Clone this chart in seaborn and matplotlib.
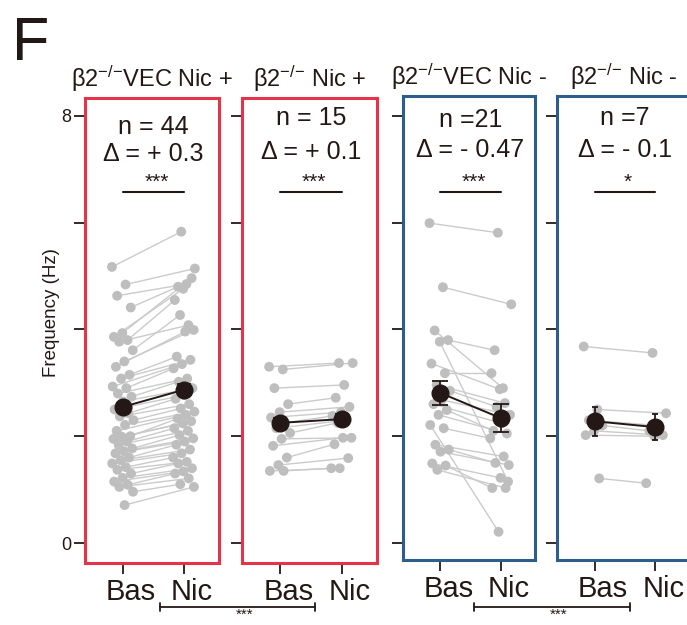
import numpy as np
import pandas as pd
import matplotlib
matplotlib.use("Agg")
import matplotlib.pyplot as plt
from matplotlib import transforms
from matplotlib.lines import Line2D
import seaborn as sns

# ---------------- data ----------------
panel_titles = [r"β2$^{\mathregular{{-}/{-}}}$VEC Nic +", r"β2$^{\mathregular{{-}/{-}}}$ Nic +",
                r"β2$^{\mathregular{{-}/{-}}}$VEC Nic -", r"β2$^{\mathregular{{-}/{-}}}$ Nic -"]
conditions = ["Bas", "Nic"]

p1_bas = [5.17, 4.84, 4.63, 4.41, 3.93, 3.86, 3.80, 3.77, 3.61, 3.40, 3.30, 3.15, 3.08, 2.93, 2.90,
          2.80, 2.74, 2.65, 2.50, 2.43, 2.37, 2.30, 2.21, 2.10, 2.00, 1.99, 1.95, 1.90, 1.84, 1.77,
          1.72, 1.68, 1.60, 1.55, 1.49, 1.42, 1.37, 1.30, 1.22, 1.15, 1.09, 1.05, 0.96, 0.71]
p1_nic = [5.83, 5.14, 4.85, 4.80, 4.96, 4.76, 4.55, 4.08, 4.27, 3.99, 3.96, 3.49, 3.43, 3.35, 3.27,
          3.08, 3.02, 2.90, 2.77, 2.70, 2.60, 2.52, 2.46, 2.40, 2.33, 2.28, 2.24, 2.15, 2.10, 2.02,
          1.96, 1.90, 1.84, 1.75, 1.68, 1.60, 1.52, 1.49, 1.40, 1.34, 1.30, 1.21, 1.10, 1.05]
p2_bas = [3.30, 3.25, 2.90, 2.60, 2.45, 2.35, 2.25, 2.15, 2.06, 1.95, 1.82, 1.60, 1.46, 1.35, 1.35]
p2_nic = [3.37, 3.37, 2.96, 2.72, 2.55, 2.45, 2.38, 2.30, 2.25, 1.97, 1.97, 1.85, 1.59, 1.40, 1.40]
p3_bas = [5.99, 4.79, 3.98, 3.80, 3.77, 3.36, 3.18, 2.96, 2.85, 2.68, 2.60, 2.49, 2.40, 2.21, 2.15,
          1.84, 1.75, 1.71, 1.49, 1.45, 1.37]
p3_nic = [5.81, 4.47, 2.90, 3.61, 1.15, 2.88, 3.18, 2.62, 2.55, 2.40, 2.24, 2.10, 2.05, 0.21, 1.96,
          1.62, 1.50, 1.46, 1.22, 1.03, 1.03]
p4_bas = [3.68, 2.50, 2.30, 2.20, 2.10, 2.02, 1.21]
p4_nic = [3.56, 2.43, 2.20, 2.10, 2.02, 2.00, 1.12]

mean_bas = [2.55, 2.25, 2.81, 2.28]
mean_nic = [2.87, 2.32, 2.34, 2.17]
sem_bas = [0.08, 0.10, 0.23, 0.27]
sem_nic = [0.10, 0.10, 0.26, 0.25]

n_labels = ["n = 44", "n = 15", "n =21", "n =7"]
delta_labels = ["Δ = + 0.3", "Δ = + 0.1", "Δ = - 0.47", "Δ = - 0.1"]
sig_labels = ["***", "***", "***", "*"]
between_labels = ["***", "***"]
y_ticks = [0, 2, 4, 6, 8]
y_ticklabels = ["0", "", "", "", "8"]

# ---------------- style ----------------
sns.set_theme(style="ticks")
main_font = "Liberation Sans"
plt.rcParams["font.family"] = [main_font, "DejaVu Sans"]
plt.rcParams["mathtext.fontset"] = "custom"
plt.rcParams["mathtext.rm"] = main_font
plt.rcParams["mathtext.it"] = main_font
plt.rcParams["mathtext.bf"] = main_font

DARK = "#231815"
RED = "#E5344A"
BLUE = "#2D5D8A"
GRAY_PT = "#BEBEBE"
GRAY_LN = "#CBCBCB"
box_colors = [RED, RED, BLUE, BLUE]

W, H = 687, 625
fig = plt.figure(figsize=(W / 100, H / 100), dpi=100)
fig.patch.set_facecolor("white")

# axes boxes in pixels: left, right, top, bottom
boxes = [(85, 219, 98, 563), (242, 377, 98, 563), (403, 535, 96, 560), (557, 690, 96, 560)]
Y0, PXU = 543.0, 53.4  # pixel of value 0 and pixels per unit

all_bas = [p1_bas, p2_bas, p3_bas, p4_bas]
all_nic = [p1_nic, p2_nic, p3_nic, p4_nic]

rows = []
for p, (b, n) in enumerate(zip(all_bas, all_nic)):
    for i, (vb, vn) in enumerate(zip(b, n)):
        rows.append(dict(panel=p, pair=i, cond=0, value=vb))
        rows.append(dict(panel=p, pair=i, cond=1, value=vn))
df = pd.DataFrame(rows)
# deterministic horizontal spread of the individual points
frac = (df["pair"] * 0.6180339887 + df["cond"] * 0.37) % 1.0
df["x"] = df["cond"] + (frac * 2 - 1) * 0.18

n_y = [134, 125, 127, 125]
d_y = [161, 159, 157, 157]

for p in range(4):
    l, r, t, b = boxes[p]
    ax = fig.add_axes([l / W, 1 - b / H, (r - l) / W, (b - t) / H])
    sub = df[df["panel"] == p]
    sns.lineplot(data=sub, x="x", y="value", units="pair", estimator=None, sort=False,
                 color=GRAY_LN, lw=1.0, ax=ax, legend=False, zorder=1)
    sns.scatterplot(data=sub, x="x", y="value", color=GRAY_PT, s=50, edgecolor="none",
                    ax=ax, legend=False, zorder=2)
    ax.plot([0, 1], [mean_bas[p], mean_nic[p]], color=DARK, lw=1.4, zorder=4)
    ax.errorbar([0, 1], [mean_bas[p], mean_nic[p]], yerr=[sem_bas[p], sem_nic[p]],
                fmt="o", ms=12, color=DARK, ecolor=DARK, elinewidth=1.3, capthick=1.3,
                capsize=[5, 5, 5.5, 2][p], zorder=5)

    ax.set_xlim(-0.62, 1.57)
    ax.set_ylim((Y0 - b) / PXU, (Y0 - t) / PXU)
    ax.set_xticks([0, 1])
    ax.set_xticklabels(conditions, fontsize=21, color=DARK)
    ax.set_yticks(y_ticks)
    if p == 0:
        ax.set_yticklabels(y_ticklabels, fontsize=13, color=DARK)
    else:
        ax.set_yticklabels([])
    ax.set_xlabel("")
    ax.set_ylabel("")
    ax.tick_params(axis="both", direction="out", length=8, width=1.3, color=DARK, pad=2)
    ax.tick_params(axis="x", pad=3)
    off = transforms.ScaledTranslation(8 / 100, 0, fig.dpi_scale_trans)
    for lab in ax.get_xticklabels():
        lab.set_transform(lab.get_transform() + off)
    for s in ax.spines.values():
        s.set_visible(True)
        s.set_color(box_colors[p])
        s.set_linewidth(2.2)
    ax.set_facecolor("white")
    ax.set_title(panel_titles[p], fontsize=17, color=DARK, pad=8)

    xc = 0.5
    ax.text(xc, (Y0 - n_y[p]) / PXU, n_labels[p], ha="center", va="baseline", fontsize=18, color=DARK)
    ax.text(xc, (Y0 - d_y[p]) / PXU, delta_labels[p], ha="center", va="baseline", fontsize=18, color=DARK)
    ax.text(xc + 0.05, (Y0 - 188) / PXU, sig_labels[p], ha="center", va="baseline", fontsize=15, color=DARK)
    ax.plot([0, 1], [(Y0 - 192) / PXU] * 2, color=DARK, lw=1.5)

fig.text(51 / W, 1 - 313 / H, "Frequency (Hz)", rotation=90, ha="center", va="center",
         fontsize=13.5, color=DARK)
fig.text(12 / W, 1 - 60 / H, "F", fontsize=44, ha="left", va="baseline", color=DARK)

# between-group comparison brackets
for (x1, x2), lab in zip([(160, 315), (474, 630)], between_labels):
    yb = 1 - 607 / H
    fig.add_artist(Line2D([x1 / W, x2 / W], [yb, yb], color=DARK, lw=1.3))
    for xx in (x1, x2):
        fig.add_artist(Line2D([xx / W, xx / W], [yb - 4 / H, yb + 4 / H], color=DARK, lw=1.3))
    fig.text((x1 + x2) / 2 / W + 7 / W, 1 - 608 / H, lab, ha="center", va="top", fontsize=11, color=DARK)

fig.savefig("out.png", dpi=100, facecolor="white")
